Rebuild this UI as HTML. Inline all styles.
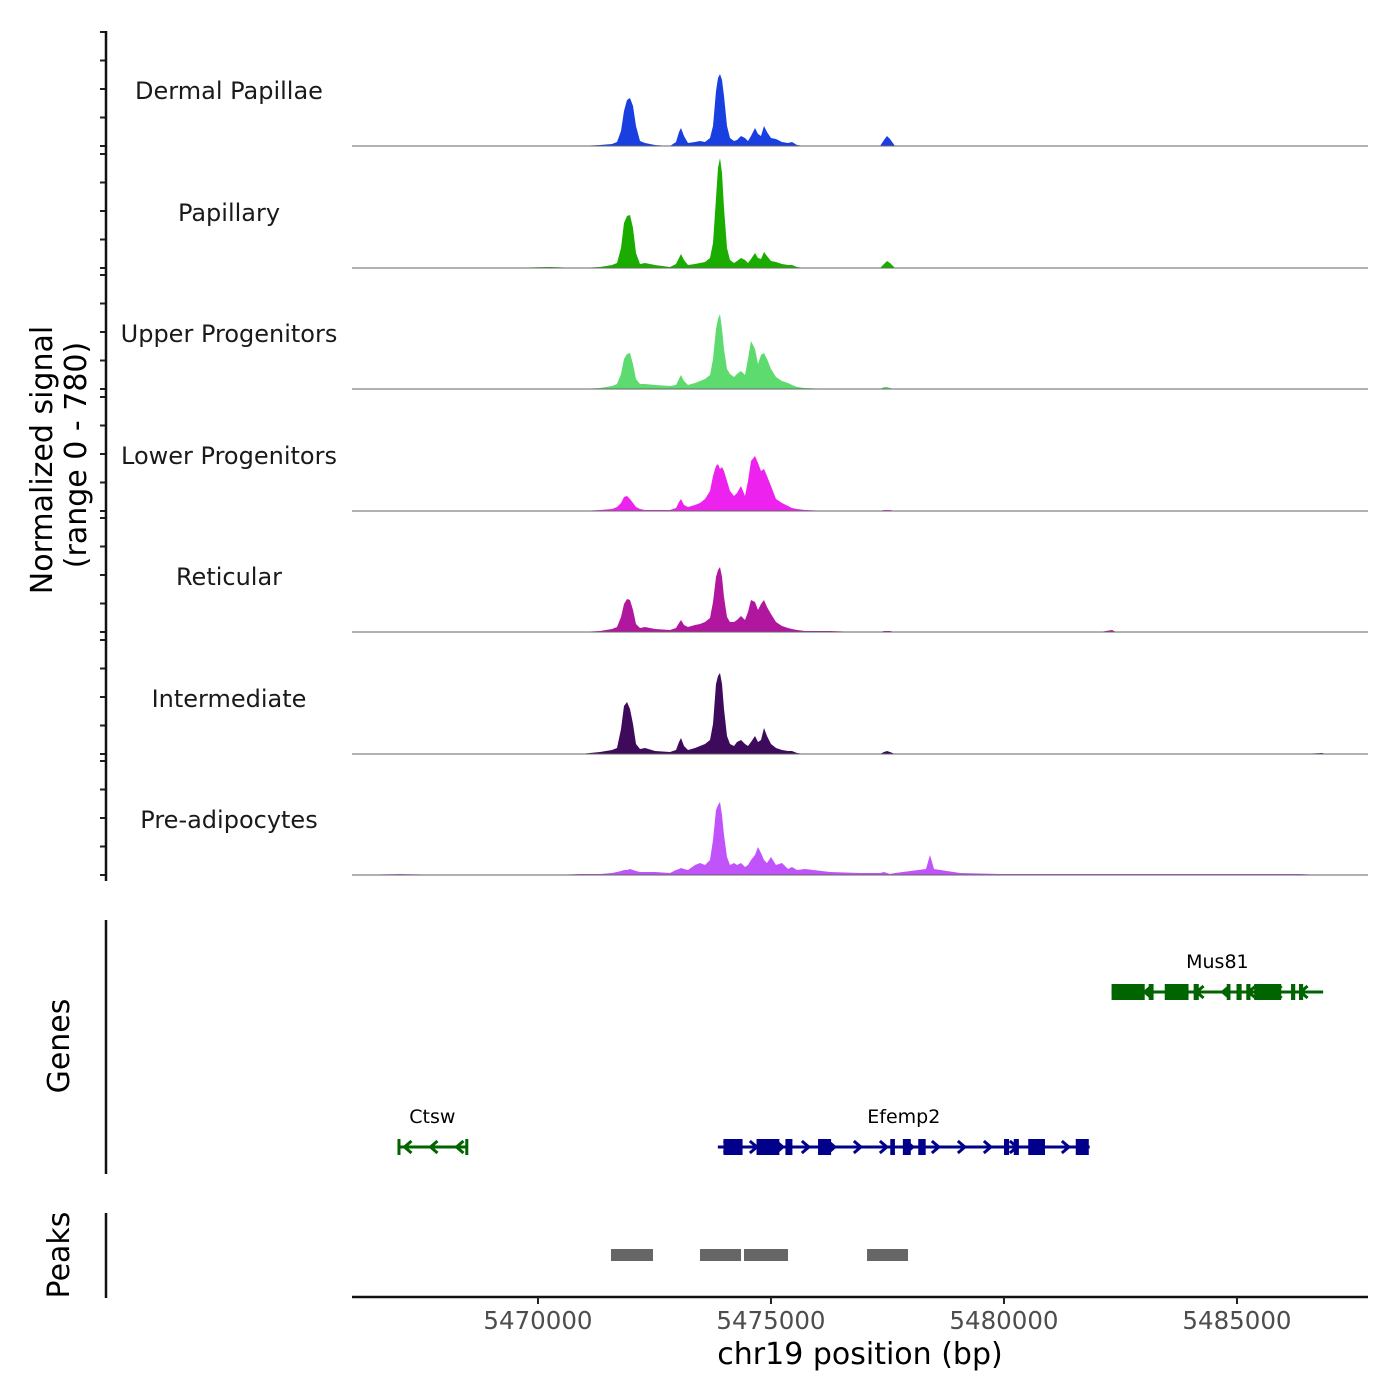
<!DOCTYPE html>
<html><head><meta charset="utf-8"><style>
body{margin:0;background:#fff}
svg{display:block;font-family:"DejaVu Sans","Liberation Sans",sans-serif}
</style></head><body>
<svg id="c" width="1400" height="1400" viewBox="0 0 1400 1400">
<g id="tracks"></g>
<g id="genes"></g>
<g id="peaks"></g>
<g id="axes"></g>
</svg>
<script>
const trackNames=["Dermal Papillae","Papillary","Upper Progenitors","Lower Progenitors","Reticular","Intermediate","Pre-adipocytes"];
const trackColors=["#1a3fe0","#1aad00","#5ddb6e","#ee22ee","#b0169e","#3d0a5c","#c053fa"];
const positions=[5466009,5467039,5468112,5469185,5470258,5470902,5471331,5471589,5471696,5471782,5471846,5471911,5471975,5472039,5472104,5472189,5472297,5472511,5472833,5472962,5473026,5473069,5473134,5473220,5473370,5473477,5473584,5473692,5473756,5473820,5473863,5473906,5473949,5473992,5474057,5474121,5474207,5474271,5474357,5474443,5474507,5474572,5474657,5474722,5474786,5474851,5474915,5475001,5475108,5475237,5475366,5475451,5475559,5475730,5476267,5476911,5477340,5477426,5477490,5477555,5477662,5478327,5478413,5478499,5479057,5479915,5480988,5482061,5482319,5482404,5483134,5484207,5485280,5486353,5486847];
const sigDermal=[0,0,0,0,0,0,1,2,4,15,35,46,48,40,20,5,3,1,0,4,14,18,10,3,4,5,4,8,20,55,68,72,66,50,20,8,5,6,10,8,5,10,18,12,10,20,14,8,7,4,3,4,1,0,0,0,0,6,10,7,0,0,0,0,0,0,0,0,0,0,0,0,0,0,0];
const sigPapillary=[0,0,0,0,1,0,1,3,5,20,45,52,53,40,15,4,5,3,1,4,10,14,8,3,4,5,6,10,25,70,100,110,95,60,20,8,5,7,10,8,5,9,15,10,9,16,12,7,6,4,3,3,1,0,0,0,0,4,7,5,0,0,0,0,0,0,0,0,0,0,0,0,0,0,0];
const sigUpper=[0,0,0,0,0,0,1,3,5,15,30,35,36,25,10,5,5,4,3,4,10,14,8,4,6,8,10,14,30,60,70,75,60,40,20,15,12,15,18,14,30,48,40,25,34,36,30,20,12,8,6,4,2,1,0,0,0,2,2,1,0,0,0,0,0,0,0,0,0,0,0,0,0,0,0];
const sigLower=[0,0,0,0,0,0,1,2,4,8,14,15,12,8,4,2,1,1,1,3,9,12,6,4,6,8,12,20,35,45,47,42,44,40,30,20,15,18,25,15,30,50,55,48,40,42,35,25,12,8,5,3,2,1,0,0,0,1,1,1,0,0,0,0,0,0,0,0,0,0,0,0,0,0,0];
const sigReticular=[0,0,0,0,0,0,1,3,5,15,28,33,32,22,8,4,5,3,2,4,9,12,7,5,7,8,10,14,30,55,62,65,55,35,15,10,10,12,16,12,20,32,30,22,28,32,25,18,10,6,4,3,2,1,1,0,0,1,1,1,0,0,0,0,0,0,0,0,2,0,0,0,0,0,0];
const sigIntermediate=[0,0,0,0,0,0,2,4,6,25,48,52,45,30,10,5,6,3,2,4,12,16,8,4,6,8,10,14,30,70,78,81,70,45,18,10,8,12,14,10,8,12,18,12,14,26,18,10,6,4,3,3,1,0,0,0,0,2,3,2,0,0,0,0,0,0,0,0,0,0,0,0,0,0,1];
const sigPreadipo=[0,1,0,0,0,1,1,2,3,4,5,5,6,5,4,3,3,3,2,5,6,7,6,5,10,12,10,15,35,65,70,73,60,40,18,10,12,10,12,8,10,15,20,28,22,15,12,18,10,12,6,8,5,6,3,2,2,3,2,1,2,6,20,6,2,1,1,1,1,1,1,1,1,1,0];
const signals=[sigDermal,sigPapillary,sigUpper,sigLower,sigReticular,sigIntermediate,sigPreadipo];
const xTicks=[5470000,5475000,5480000,5485000];
const yTickVals=[0,28.5,57,85.5,114];
const geneNames=["Mus81","Efemp2","Ctsw"];
const geneStart=[5482309,5473860,5466985];
const geneEnd=[5486850,5481840,5468480];
const geneStrand=[-1,1,-1];
const geneRow=[0,1,1];
const geneColor=["#006400","#00008b","#006400"];
const geneExons=[
 [[5482309,5483020],[5483105,5483210],[5483450,5483960],[5484070,5484180],[5484780,5484860],[5484990,5485100],[5485200,5485290],[5485370,5485950],[5486160,5486250],[5486330,5486420]],
 [[5473980,5474390],[5474690,5475180],[5475310,5475460],[5476010,5476290],[5477560,5477660],[5477830,5478000],[5478160,5478320],[5480000,5480110],[5480210,5480320],[5480520,5480880],[5481540,5481820]],
 [[5466985,5467030],[5468440,5468480]]];
const peakStart=[5471567,5473477,5474421,5477061];
const peakEnd=[5472468,5474357,5475365,5477940];

const NS="http://www.w3.org/2000/svg";
function mk(t,a,p){const e=document.createElementNS(NS,t);for(const k in a)e.setAttribute(k,a[k]);p.appendChild(e);return e;}
const X0=5466009,PX0=352,K=0.0466;
function xs(bp){return PX0+(bp-X0)*K;}
const baselines=[146,268,389,511,632,754,875];
function ys(v,b){return b-v;}
const T=document.getElementById('tracks'),A=document.getElementById('axes'),G=document.getElementById('genes'),P=document.getElementById('peaks');

signals.forEach((s,i)=>{
 const b=baselines[i];
 let d="M"+xs(positions[0])+","+b;
 positions.forEach((p,j)=>{d+=" L"+xs(p).toFixed(1)+","+ys(s[j],b).toFixed(1);});
 d+=" L"+xs(positions[positions.length-1])+","+b+" Z";
 const path=mk('path',{d:d,fill:trackColors[i]},T);
 
 
 const ln=mk('line',{x1:352,x2:1368,y1:b,y2:b,stroke:'#666','stroke-width':1},T);
 
 
 const tx=mk('text',{x:229,y:b-47,'text-anchor':'middle','font-size':24,fill:'#1a1a1a'},T);
 tx.textContent=trackNames[i];
 
 
 yTickVals.forEach(v=>{const y=ys(v,b);
  const tk=mk('line',{x1:100,x2:106,y1:y,y2:y,stroke:'#222','stroke-width':2},A);
  
  });
});
mk('line',{x1:106,x2:106,y1:31,y2:881,stroke:'#111','stroke-width':2.5},A);
mk('line',{x1:106,x2:106,y1:920,y2:1174,stroke:'#111','stroke-width':2.5},A);
mk('line',{x1:106,x2:106,y1:1213,y2:1298,stroke:'#111','stroke-width':2.5},A);
mk('line',{x1:352,x2:1368,y1:1297,y2:1297,stroke:'#111','stroke-width':2.5},A);
xTicks.forEach(t=>{
 const tk=mk('line',{x1:xs(t),x2:xs(t),y1:1297,y2:1304,stroke:'#222','stroke-width':2},A);
 
 
 const tl=mk('text',{x:xs(t),y:1329,'text-anchor':'middle','font-size':24.5,fill:'#4d4d4d'},A);
 tl.textContent=t;
 
 
});
function rt(txt,x,y,name,sz){const e=mk('text',{x:x,y:y,'text-anchor':'middle','font-size':sz,fill:'#000',transform:'rotate(-90 '+x+' '+y+')'},A);e.textContent=txt;}
rt("Normalized signal",52,460,'y-axis-title',30);
rt("(range 0 - 780)",86,455,'y-axis-subtitle',30);
rt("Genes",69,1046,'genes-axis-title',30);
rt("Peaks",69,1255,'peaks-axis-title',30);
const xt=mk('text',{x:860,y:1364,'text-anchor':'middle','font-size':30,fill:'#000'},A);
xt.textContent="chr19 position (bp)";



geneNames.forEach((n,i)=>{
 const y=geneRow[i]===0?992:1147,c=geneColor[i];
 const g=mk('g',{},G);
 
 
 const x1=xs(geneStart[i]),x2=xs(geneEnd[i]);
 mk('line',{x1:x1,x2:x2,y1:y,y2:y,stroke:c,'stroke-width':3},g);
 for(let x=x1+10;x<x2-4;x+=26){
  const d=geneStrand[i]>0?`M${x-4},${y-6} L${x+3},${y} L${x-4},${y+6}`:`M${x+4},${y-6} L${x-3},${y} L${x+4},${y+6}`;
  mk('path',{d:d,stroke:c,'stroke-width':3,fill:'none'},g);
 }
 geneExons[i].forEach(e=>{const a=xs(e[0]),b=xs(e[1]);mk('rect',{x:a,y:y-8,width:Math.max(b-a,3),height:16,fill:c},g);});
 const t=mk('text',{x:(x1+x2)/2,y:y-24,'text-anchor':'middle','font-size':19,fill:'#000'},g);
 t.textContent=n;
});
peakStart.forEach((s,i)=>{
 const r=mk('rect',{x:xs(s),y:1249,width:xs(peakEnd[i])-xs(s),height:12,fill:'#666'},P);
 
 
});
</script>
</body></html>
